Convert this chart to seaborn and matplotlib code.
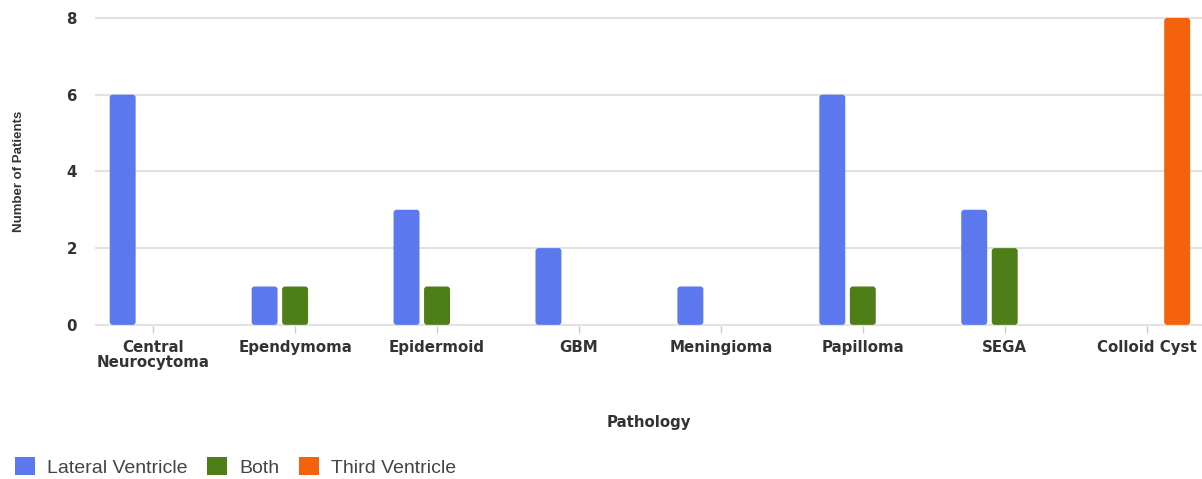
import numpy as np
import pandas as pd
import seaborn as sns
import matplotlib.pyplot as plt
from matplotlib.patches import FancyBboxPatch, Patch

# data
pathology = ["Central\nNeurocytoma", "Ependymoma", "Epidermoid", "GBM",
             "Meningioma", "Papilloma", "SEGA", "Colloid Cyst"]
locations = ["Lateral Ventricle", "Both", "Third Ventricle"]
lateral = [6, 1, 3, 2, 1, 6, 3, None]
both = [None, 1, 1, None, None, 1, 2, None]
third = [None, None, None, None, None, None, None, 8]
colors = ["#5b78ef", "#4e7e18", "#f4620b"]

rows = []
for loc, vals in zip(locations, [lateral, both, third]):
    for p, v in zip(pathology, vals):
        if v is not None:
            rows.append({"Pathology": p, "Location": loc, "Patients": v})
df = pd.DataFrame(rows)

fig = plt.figure(figsize=(12.02, 4.79), dpi=100)
ax = fig.add_axes([95 / 1202, 1 - 326 / 479, 1 - 95 / 1202, 310 / 479])

sns.barplot(data=df, x="Pathology", y="Patients", hue="Location",
            order=pathology, hue_order=locations,
            palette=dict(zip(locations, colors)), saturation=1,
            width=0.645, gap=0.15, legend=False, errorbar=None, ax=ax)

ax.set_xlim(-0.41, 7.39)
ax.set_ylim(-0.03, 8.05)
ax.set_yticks([0, 2, 4, 6, 8])

# rounded bar corners
xr = 7.8 / 1107
yr = 8.08 / 310
for p in list(ax.patches):
    x, y = p.get_x(), p.get_y()
    w, h = p.get_width(), p.get_height()
    if np.isnan(h) or h == 0:
        p.remove()
        continue
    fc = p.get_facecolor()
    p.remove()
    ax.add_patch(FancyBboxPatch((x, y), w, h,
                                boxstyle="round,pad=0,rounding_size=%f" % (3 * xr),
                                mutation_aspect=yr / xr, fc=fc, ec="none", zorder=2))

for s in ax.spines.values():
    s.set_visible(False)
ax.set_axisbelow(True)
ax.yaxis.grid(True, color="#e2e2e2", lw=1.5)

ax.tick_params(axis="x", length=5, width=1, color="#cccccc", pad=5,
               labelsize=10.8, labelcolor="#333333")
ax.tick_params(axis="y", length=0, pad=13, labelsize=10.8, labelcolor="#333333")
for lab in ax.get_xticklabels() + ax.get_yticklabels():
    lab.set_fontweight("bold")
    lab.set_family("DejaVu Sans")
for lab in ax.get_xticklabels():
    lab.set_linespacing(1.05)

ax.set_xlabel("Pathology", fontsize=10.8, fontweight="bold", color="#333333",
              family="DejaVu Sans")
ax.xaxis.set_label_coords(0.5, -0.287)
ax.set_ylabel("Number of Patients", fontsize=9.5, fontweight="bold", color="#333333",
              family="Liberation Sans")
ax.yaxis.set_label_coords(-0.063, 0.5)

handles = [Patch(fc=c, ec="none", label=l) for l, c in zip(locations, colors)]
fig.legend(handles=handles, loc="center left", bbox_to_anchor=(15 / 1202, 12 / 479),
           ncol=3, frameon=False, borderaxespad=0, borderpad=0,
           handlelength=1.05, handleheight=1.05, handletextpad=0.6,
           columnspacing=1.0,
           prop={"family": "Liberation Sans", "size": 14})
for t in fig.legends[0].get_texts():
    t.set_color("#444444")

fig.savefig("out.png", dpi=100)
